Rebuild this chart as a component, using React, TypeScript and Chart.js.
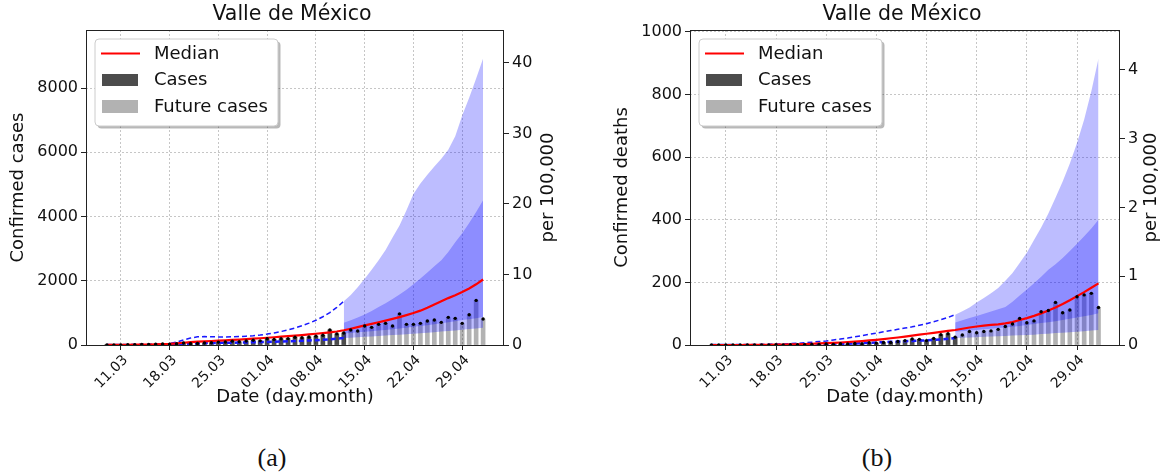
import React, { useEffect, useRef } from 'react';
import { Chart, registerables } from 'chart.js';

Chart.register(...registerables);

// Day offsets are counted from 11.03; the series start on 09.03 (day -2),
// the fitted period ends on 12.04 (day 32) and the forecast runs to 02.05 (day 52).
const FIRST_DAY = -2;
const FORECAST_START_DAY = 32;
const POPULATION = 21960000;

const xTickDays = [0, 7, 14, 21, 28, 35, 42, 49];
const xTickLabels = ['11.03', '18.03', '25.03', '01.04', '08.04', '15.04', '22.04', '29.04'];

// ---- Confirmed cases (daily) ----
const casesObserved = [3, 2, 5, 10, 12, 15, 18, 25, 30, 28, 40, 60, 45, 50, 60, 70, 90, 95, 120, 100, 125, 150, 130, 195, 175, 195, 200, 240, 225, 250, 275, 305, 470, 345, 375];
const casesFuture = [467, 435, 591, 550, 643, 674, 591, 970, 643, 643, 674, 746, 778, 705, 861, 830, 674, 944, 1389, 809];
const casesMedian = [3, 4, 5, 7, 9, 12, 15, 20, 26, 35, 50, 70, 90, 105, 115, 125, 135, 145, 157, 170, 183, 197, 211, 226, 242, 258, 275, 292, 310, 330, 350, 372, 395, 420, 460, 505, 555, 610, 660, 710, 760, 815, 870, 930, 995, 1070, 1160, 1260, 1360, 1460, 1550, 1650, 1760, 1890, 2040];
const casesFitUpper = [3, 4, 5, 7, 9, 12, 16, 22, 30, 45, 90, 160, 215, 255, 262, 256, 252, 252, 256, 264, 275, 290, 310, 340, 375, 420, 470, 530, 600, 680, 770, 880, 1010, 1170, 1360];
const casesFitLower = [2, 2, 3, 3, 4, 5, 6, 7, 9, 12, 20, 35, 50, 58, 62, 64, 66, 69, 72, 76, 80, 85, 90, 96, 102, 108, 115, 123, 131, 140, 150, 162, 177, 195, 215];
const casesOuterUpper = [1360, 1560, 1800, 2060, 2340, 2640, 2960, 3350, 3720, 4200, 4700, 5030, 5300, 5560, 5800, 6080, 6500, 7150, 7700, 8300, 8920];
const casesOuterLower = [215, 228, 241, 254, 267, 280, 294, 308, 322, 337, 352, 368, 384, 400, 418, 436, 455, 475, 496, 515, 535];
const casesInnerUpper = [690, 770, 860, 950, 1060, 1180, 1300, 1430, 1570, 1720, 1890, 2070, 2260, 2450, 2640, 2900, 3200, 3480, 3800, 4140, 4510];
const casesInnerLower = [360, 375, 395, 410, 430, 450, 470, 490, 515, 540, 565, 590, 615, 645, 675, 710, 740, 775, 805, 835, 870];
const casesTicks = [0, 2000, 4000, 6000, 8000];
const casesPer100kTicks = [0, 10, 20, 30, 40];

// ---- Confirmed deaths (daily) ----
const deathsObserved = [0, 0, 0, 0, 0, 0, 0, 0, 0, 1, 0, 1, 1, 1, 2, 2, 3, 2, 4, 3, 5, 4, 7, 6, 8, 8, 11, 14, 19, 18, 14, 21, 33, 36, 25];
const deathsFuture = [32, 43, 39, 43, 45, 50, 59, 67, 85, 71, 77, 106, 110, 136, 103, 112, 154, 160, 165, 120];
const deathsMedian = [0, 0, 0, 0, 0, 0.2, 0.3, 0.5, 0.7, 1, 1.3, 1.7, 2.2, 3, 4, 5, 6, 7, 8, 9.5, 11, 12.5, 14.5, 16.5, 19, 21.5, 24, 27, 30, 33, 36, 39, 42, 45, 48, 52, 56, 59, 62, 64, 66, 69, 73, 80, 86, 93, 101, 110, 120, 131, 143, 156, 169, 183, 197];
const deathsFitUpper = [0, 0, 0, 0.3, 0.5, 0.8, 1, 1.5, 2, 2.5, 3.5, 4.5, 5.5, 7, 9, 11, 13, 16, 19, 22, 26, 30, 34, 38, 42, 46, 50, 54, 58, 63, 68, 74, 81, 88, 97];
const deathsFitLower = [0, 0, 0, 0, 0, 0, 0, 0, 0, 0, 0, 0, 0, 0.5, 1, 1.5, 2, 2.5, 3, 4, 5, 6, 7, 8, 9, 10, 11, 12, 13, 14, 15, 16.5, 18, 20, 22];
const deathsOuterUpper = [97, 108, 120, 136, 150, 165, 182, 205, 230, 262, 295, 335, 375, 420, 470, 522, 580, 645, 720, 810, 915];
const deathsOuterLower = [22, 23, 24, 25, 26, 27, 28, 29, 30, 31, 32, 33, 35, 36, 38, 39, 41, 42, 44, 46, 48];
const deathsInnerUpper = [72, 79, 86, 93, 100, 107, 114, 121, 138, 158, 177, 197, 218, 240, 258, 278, 300, 323, 347, 372, 400];
const deathsInnerLower = [42, 44, 46, 48, 50, 52, 54, 56, 58, 61, 64, 67, 70, 73, 76, 80, 84, 88, 92, 96, 101];
const deathsTicks = [0, 200, 400, 600, 800, 1000];
const deathsPer100kTicks = [0, 1, 2, 3, 4];

const FONT = '"DejaVu Sans", sans-serif';
const TEXT = '#111111';
const AXIS = '#222222';
const BAND = 'rgba(0, 0, 255, 0.26)';
const CASES_COLOR = 'rgba(0, 0, 0, 0.7)';
const FUTURE_COLOR = 'rgba(0, 0, 0, 0.3)';
const CANVAS_H = 420;

type PanelSpec = {
  title: string;
  yLabel: string;
  observed: number[];
  future: number[];
  median: number[];
  fitUpper: number[];
  fitLower: number[];
  outerUpper: number[];
  outerLower: number[];
  innerUpper: number[];
  innerLower: number[];
  yMax: number;
  yTicks: number[];
  per100kTicks: number[];
  canvasLeft: number;
  canvasWidth: number;
  leftAxisWidth: number;
  rightAxisWidth: number;
  rightLabelGap: number;
};

const pts = (vals: number[], start: number) => vals.map((v, i) => ({ x: start + i, y: v }));

function roundRectPath(ctx: CanvasRenderingContext2D, x: number, y: number, w: number, h: number, r: number) {
  ctx.beginPath();
  ctx.moveTo(x + r, y);
  ctx.lineTo(x + w - r, y);
  ctx.arcTo(x + w, y, x + w, y + r, r);
  ctx.lineTo(x + w, y + h - r);
  ctx.arcTo(x + w, y + h, x + w - r, y + h, r);
  ctx.lineTo(x + r, y + h);
  ctx.arcTo(x, y + h, x, y + h - r, r);
  ctx.lineTo(x, y + r);
  ctx.arcTo(x, y, x + r, y, r);
  ctx.closePath();
}

function drawLegend(ctx: CanvasRenderingContext2D, left: number, top: number) {
  const w = 183;
  const h = 87;
  ctx.save();
  ctx.fillStyle = 'rgba(0,0,0,0.28)';
  roundRectPath(ctx, left + 2.5, top + 2.5, w, h, 4);
  ctx.fill();
  ctx.fillStyle = '#ffffff';
  roundRectPath(ctx, left, top, w, h, 4);
  ctx.fill();
  ctx.strokeStyle = '#cccccc';
  ctx.lineWidth = 1;
  ctx.stroke();

  ctx.strokeStyle = '#ff0000';
  ctx.lineWidth = 2;
  ctx.beginPath();
  ctx.moveTo(left + 6, top + 14.5);
  ctx.lineTo(left + 45, top + 14.5);
  ctx.stroke();

  ctx.fillStyle = CASES_COLOR;
  ctx.fillRect(left + 7, top + 35, 36, 12);
  ctx.fillStyle = FUTURE_COLOR;
  ctx.fillRect(left + 7, top + 61, 36, 13);

  ctx.fillStyle = TEXT;
  ctx.font = `18px ${FONT}`;
  ctx.textAlign = 'left';
  ctx.textBaseline = 'middle';
  ctx.fillText('Median', left + 59, top + 15);
  ctx.fillText('Cases', left + 59, top + 41.5);
  ctx.fillText('Future cases', left + 59, top + 68);
  ctx.restore();
}

function decorPlugin(spec: PanelSpec) {
  return {
    id: 'panelDecor',
    afterDatasetsDraw(chart: Chart) {
      const { ctx, chartArea: ca } = chart;
      ctx.save();
      ctx.strokeStyle = AXIS;
      ctx.lineWidth = 1;
      ctx.strokeRect(Math.round(ca.left) + 0.5, Math.round(ca.top) + 0.5, Math.round(ca.right - ca.left) - 1, Math.round(ca.bottom - ca.top));
      ctx.restore();
    },
    afterDraw(chart: Chart) {
      const { ctx, chartArea: ca } = chart;
      const cx = (ca.left + ca.right) / 2;
      const cy = (ca.top + ca.bottom) / 2;
      ctx.save();
      ctx.fillStyle = TEXT;
      ctx.textAlign = 'center';
      ctx.textBaseline = 'middle';

      ctx.font = `20.5px ${FONT}`;
      ctx.fillText(spec.title, cx - 3, 15);

      ctx.font = `18px ${FONT}`;
      ctx.fillText('Date (day.month)', cx, 397);

      ctx.save();
      ctx.translate(ca.left - 68, cy);
      ctx.rotate(-Math.PI / 2);
      ctx.fillText(spec.yLabel, 0, 0);
      ctx.restore();

      ctx.save();
      ctx.translate(ca.right + spec.rightLabelGap, cy);
      ctx.rotate(-Math.PI / 2);
      ctx.fillText('per 100,000', 0, 0);
      ctx.restore();

      ctx.restore();
      drawLegend(ctx, ca.left + 9, ca.top + 9);
    },
  };
}

function buildConfig(spec: PanelSpec): any {
  const allCases = spec.observed.concat(spec.future);
  const futureStart = FIRST_DAY + spec.observed.length;
  const lineBase = {
    type: 'line',
    pointRadius: 0,
    tension: 0,
    fill: false,
  };
  const edge = { ...lineBase, borderWidth: 0, borderColor: 'rgba(0,0,0,0)', backgroundColor: BAND };

  const datasets = [
    {
      ...lineBase,
      label: 'data',
      data: pts(allCases, FIRST_DAY),
      showLine: false,
      pointRadius: 1.7,
      pointBackgroundColor: '#000000',
      pointBorderWidth: 0,
      order: 0,
    },
    { ...lineBase, label: 'Median', data: pts(spec.median, FIRST_DAY), borderColor: '#ff0000', borderWidth: 2.2, order: 1 },
    { ...lineBase, label: 'fit upper', data: pts(spec.fitUpper, FIRST_DAY), borderColor: '#1a1aff', borderWidth: 1.5, borderDash: [5, 3], order: 2 },
    { ...lineBase, label: 'fit lower', data: pts(spec.fitLower, FIRST_DAY), borderColor: '#1a1aff', borderWidth: 2.5, borderDash: [5, 3], order: 3 },
    { ...edge, label: 'inner upper', data: pts(spec.innerUpper, FORECAST_START_DAY), fill: 5, order: 4 },
    { ...edge, label: 'inner lower', data: pts(spec.innerLower, FORECAST_START_DAY), order: 5 },
    { ...edge, label: 'outer upper', data: pts(spec.outerUpper, FORECAST_START_DAY), fill: 7, order: 6 },
    { ...edge, label: 'outer lower', data: pts(spec.outerLower, FORECAST_START_DAY), order: 7 },
    {
      type: 'bar',
      label: 'Cases',
      data: pts(spec.observed, FIRST_DAY),
      backgroundColor: CASES_COLOR,
      barThickness: 4,
      grouped: false,
      order: 8,
    },
    {
      type: 'bar',
      label: 'Future cases',
      data: pts(spec.future, futureStart),
      backgroundColor: FUTURE_COLOR,
      barThickness: 4,
      grouped: false,
      order: 9,
    },
  ];

  const per100kMax = (spec.yMax * 100000) / POPULATION;

  return {
    type: 'line',
    data: { datasets },
    options: {
      responsive: false,
      animation: false,
      devicePixelRatio: 1,
      layout: { padding: { top: 30, left: 0, right: 0, bottom: 0 }, autoPadding: false },
      plugins: { legend: { display: false }, tooltip: { enabled: false }, title: { display: false } },
      events: [],
      scales: {
        x: {
          type: 'linear',
          min: -5,
          max: 55,
          offset: false,
          afterFit: (s: any) => {
            s.height = CANVAS_H - 345;
          },
          afterBuildTicks: (s: any) => {
            s.ticks = xTickDays.map((v) => ({ value: v }));
          },
          grid: {
            offset: false,
            color: '#b8b8b8',
            lineWidth: 0.8,
            tickLength: 5,
            tickColor: AXIS,
            tickWidth: 1,
            tickBorderDash: [],
          },
          border: { display: false, dash: [2, 2] },
          ticks: {
            autoSkip: false,
            maxRotation: 45,
            minRotation: 45,
            padding: 2,
            labelOffset: 5,
            color: TEXT,
            font: { family: FONT, size: 14 },
            callback: (v: number) => xTickLabels[xTickDays.indexOf(v)] ?? '',
          },
        },
        y: {
          type: 'linear',
          position: 'left',
          min: 0,
          max: spec.yMax,
          afterFit: (s: any) => {
            s.width = spec.leftAxisWidth;
          },
          afterBuildTicks: (s: any) => {
            s.ticks = spec.yTicks.map((v) => ({ value: v }));
          },
          grid: {
            color: '#b8b8b8',
            lineWidth: 0.8,
            tickLength: 5,
            tickColor: AXIS,
            tickWidth: 1,
            tickBorderDash: [],
          },
          border: { display: false, dash: [2, 2] },
          ticks: {
            padding: 3,
            color: TEXT,
            font: { family: FONT, size: 16 },
            callback: (v: number) => String(v),
          },
        },
        per100k: {
          type: 'linear',
          position: 'right',
          min: 0,
          max: per100kMax,
          afterFit: (s: any) => {
            s.width = spec.rightAxisWidth;
          },
          afterBuildTicks: (s: any) => {
            s.ticks = spec.per100kTicks.map((v) => ({ value: v }));
          },
          grid: {
            drawOnChartArea: false,
            tickLength: 5,
            tickColor: AXIS,
            tickWidth: 1,
          },
          border: { display: false },
          ticks: {
            padding: 3,
            color: TEXT,
            font: { family: FONT, size: 16 },
            callback: (v: number) => String(v),
          },
        },
      },
    },
    plugins: [decorPlugin(spec)],
  };
}

const casesPanel: PanelSpec = {
  title: 'Valle de México',
  yLabel: 'Confirmed cases',
  observed: casesObserved,
  future: casesFuture,
  median: casesMedian,
  fitUpper: casesFitUpper,
  fitLower: casesFitLower,
  outerUpper: casesOuterUpper,
  outerLower: casesOuterLower,
  innerUpper: casesInnerUpper,
  innerLower: casesInnerLower,
  yMax: 9810,
  yTicks: casesTicks,
  per100kTicks: casesPer100kTicks,
  canvasLeft: 0,
  canvasWidth: 580,
  leftAxisWidth: 86,
  rightAxisWidth: 76,
  rightLabelGap: 44,
};

const deathsPanel: PanelSpec = {
  title: 'Valle de México',
  yLabel: 'Confirmed deaths',
  observed: deathsObserved,
  future: deathsFuture,
  median: deathsMedian,
  fitUpper: deathsFitUpper,
  fitLower: deathsFitLower,
  outerUpper: deathsOuterUpper,
  outerLower: deathsOuterLower,
  innerUpper: deathsInnerUpper,
  innerLower: deathsInnerLower,
  yMax: 1006,
  yTicks: deathsTicks,
  per100kTicks: deathsPer100kTicks,
  canvasLeft: 590,
  canvasWidth: 572,
  leftAxisWidth: 100,
  rightAxisWidth: 42,
  rightLabelGap: 31,
};

function Panel({ spec }: { spec: PanelSpec }) {
  const ref = useRef<HTMLCanvasElement>(null);
  useEffect(() => {
    if (!ref.current) return;
    const chart = new Chart(ref.current, buildConfig(spec));
    return () => chart.destroy();
  }, [spec]);
  return (
    <canvas
      ref={ref}
      width={spec.canvasWidth}
      height={CANVAS_H}
      style={{ position: 'absolute', left: spec.canvasLeft, top: 0, width: spec.canvasWidth, height: CANVAS_H }}
    />
  );
}

const captionStyle: React.CSSProperties = {
  position: 'absolute',
  top: 443,
  width: 80,
  textAlign: 'center',
  fontFamily: '"Liberation Serif", "DejaVu Serif", serif',
  fontSize: 26,
  lineHeight: '30px',
  color: '#111',
};

export default function App() {
  return (
    <div style={{ position: 'absolute', left: 0, top: 0, width: 1162, height: 475, background: '#ffffff', overflow: 'hidden' }}>
      <Panel spec={casesPanel} />
      <Panel spec={deathsPanel} />
      <div style={{ ...captionStyle, left: 272 - 40 }}>(a)</div>
      <div style={{ ...captionStyle, left: 877 - 40 }}>(b)</div>
    </div>
  );
}
